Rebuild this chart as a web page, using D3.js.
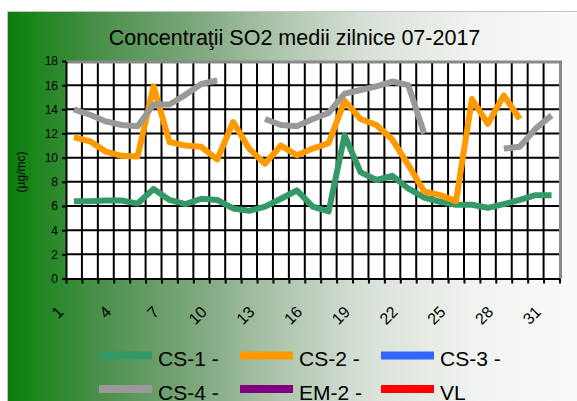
<!DOCTYPE html>
<html>
<head>
<meta charset="utf-8">
<script src="https://cdn.jsdelivr.net/npm/d3@7"></script>
<style>
  body { margin: 0; background: #fff; }
  svg { display: block; font-family: "Liberation Sans", Arial, sans-serif; }
</style>
</head>
<body>
<div id="chart"></div>
<script>
// days of the month (categories)
const days = [1, 2, 3, 4, 5, 6, 7, 8, 9, 10, 11, 12, 13, 14, 15, 16,
  17, 18, 19, 20, 21, 22, 23, 24, 25, 26, 27, 28, 29, 30, 31];
const dayLabels = [1, 4, 7, 10, 13, 16, 19, 22, 25, 28, 31];
const yTicks = [0, 2, 4, 6, 8, 10, 12, 14, 16, 18];

// daily means, µg/mc (null = no data)
const cs1 = [6.4, 6.4, 6.45, 6.45, 6.2, 7.4, 6.5, 6.15, 6.6, 6.5, 5.8, 5.6, 5.95, 6.6, 7.3, 5.95,
  5.55, 11.85, 8.8, 8.15, 8.5, 7.45, 6.7, 6.35, 6.1, 6.1, 5.85, 6.15, 6.5, 6.9, 6.9];
const cs2 = [11.7, 11.35, 10.5, 10.15, 10.1, 15.9, 11.3, 11.0, 10.9, 9.85, 12.95, 10.75, 9.5, 11.0, 10.2, 10.75,
  11.2, 14.7, 13.2, 12.7, 11.5, 9.4, 7.2, 6.9, 6.4, 14.85, 12.8, 15.15, 13.2, null, null];
const cs3 = days.map(() => null);
const cs4 = [14.0, 13.55, 13.0, 12.7, 12.6, 14.4, 14.4, 15.2, 16.1, 16.4, null, null, 13.2, 12.7, 12.6, 13.2,
  13.7, 15.3, 15.6, 15.9, 16.3, 16.0, 12.0, null, null, null, null, 10.75, 10.9, 12.4, 13.5];
const em2 = days.map(() => null);
const vl = days.map(() => null);

const seriesNames = ['CS-1 -', 'CS-2 -', 'CS-3 -', 'CS-4 -', 'EM-2 -', 'VL'];
const seriesColors = ['#339966', '#ff9900', '#3366ff', '#999999', '#800080', '#ff0000'];
const seriesValues = [cs1, cs2, cs3, cs4, em2, vl];

const width = 577, height = 401;
const plot = { left: 66, right: 559.5, top: 61, bottom: 278.5 };

const svg = d3.select('#chart').append('svg')
  .attr('width', width)
  .attr('height', height);

// background gradient
const grad = svg.append('defs').append('linearGradient')
  .attr('id', 'bg')
  .attr('gradientUnits', 'userSpaceOnUse')
  .attr('x1', 7).attr('x2', 577).attr('y1', 0).attr('y2', 0);
[[0, '#0b7d0b'], [0.05, '#1c861c'], [0.16, '#4a8f4a'], [0.34, '#7fa97f'],
 [0.44, '#a2bea2'], [0.63, '#d8e1d7'], [0.82, '#f1f3f0'], [1, '#fafafa']]
  .forEach(([o, c]) => grad.append('stop').attr('offset', o).attr('stop-color', c));

svg.append('rect')
  .attr('x', 7.5).attr('y', 11.5)
  .attr('width', 580).attr('height', 400)
  .attr('fill', 'url(#bg)')
  .attr('stroke', '#c4c4c4');

// scales
const x = d3.scaleBand().domain(days).range([plot.left, plot.right]).padding(0);
const xEdge = d3.scaleLinear().domain([0, days.length]).range([plot.left, plot.right]);
const y = d3.scaleLinear().domain([0, 18]).range([plot.bottom, plot.top]);
const bw = x.bandwidth();

svg.append('rect')
  .attr('x', plot.left).attr('y', plot.top)
  .attr('width', plot.right - plot.left).attr('height', plot.bottom - plot.top)
  .attr('fill', '#fff');

// grid
const grid = svg.append('g').attr('stroke', '#000').attr('stroke-width', 2);
grid.selectAll('line.v')
  .data(days.slice(1))
  .join('line')
  .attr('x1', d => x(d)).attr('x2', d => x(d))
  .attr('y1', plot.top).attr('y2', plot.bottom);
grid.selectAll('line.h')
  .data(yTicks.slice(1, -1))
  .join('line')
  .attr('x1', plot.left).attr('x2', plot.right)
  .attr('y1', d => y(d)).attr('y2', d => y(d));

// gray frame on top and right
svg.append('path')
  .attr('d', `M${plot.left},${plot.top + 1}H${plot.right + 1}V${plot.bottom}`)
  .attr('fill', 'none')
  .attr('stroke', '#8a8a8a')
  .attr('stroke-width', 3);

// axes
const xAxis = svg.append('g')
  .attr('transform', `translate(0,${plot.bottom})`)
  .call(d3.axisBottom(xEdge).tickValues(d3.range(0, days.length + 1)).tickSize(5).tickSizeOuter(0).tickFormat(''));
xAxis.selectAll('path, line').attr('stroke', '#000').attr('stroke-width', 2);

const yAxis = svg.append('g')
  .attr('transform', `translate(${plot.left},0)`)
  .call(d3.axisLeft(y).tickValues(yTicks).tickSize(4).tickSizeOuter(0).tickPadding(4));
yAxis.selectAll('path, line').attr('stroke', '#000').attr('stroke-width', 2);
yAxis.selectAll('text')
  .attr('font-size', 12)
  .attr('font-family', '"Liberation Sans", Arial, sans-serif')
  .attr('fill', '#000');

// x labels, rotated
svg.append('g')
  .selectAll('text')
  .data(dayLabels)
  .join('text')
  .attr('transform', d => `translate(${x(d) + bw / 2 - 13.4},309) rotate(-45)`)
  .attr('text-anchor', 'end')
  .attr('dy', '0.35em')
  .attr('font-size', 16)
  .text(d => d);

// series
const line = d3.line()
  .defined(d => d != null)
  .x((d, i) => x(days[i]) + bw / 2)
  .y(d => y(d));

svg.append('g')
  .selectAll('path')
  .data(seriesValues)
  .join('path')
  .attr('d', line)
  .attr('fill', 'none')
  .attr('stroke', (d, i) => seriesColors[i])
  .attr('stroke-width', 6)
  .attr('stroke-linejoin', 'round');

// titles
svg.append('text')
  .attr('x', 294.5).attr('y', 45)
  .attr('text-anchor', 'middle')
  .attr('font-size', 21.5)
  .text('Concentraţii SO2 medii zilnice 07-2017');

svg.append('text')
  .attr('transform', 'translate(21,172) rotate(-90)')
  .attr('text-anchor', 'middle')
  .attr('dy', '0.35em')
  .attr('font-size', 12)
  .text('(µg/mc)');

// legend
const legendX = [99, 240, 381];
const legendY = [355.5, 389];
const legend = svg.append('g')
  .selectAll('g')
  .data(seriesNames)
  .join('g')
  .attr('transform', (d, i) => `translate(${legendX[i % 3]},${legendY[Math.floor(i / 3)]})`);
legend.append('line')
  .attr('x1', 0).attr('x2', 53)
  .attr('stroke', (d, i) => seriesColors[i])
  .attr('stroke-width', 8);
legend.append('text')
  .attr('x', 59).attr('y', 10.5)
  .attr('font-size', 21)
  .text(d => d);
</script>
</body>
</html>
